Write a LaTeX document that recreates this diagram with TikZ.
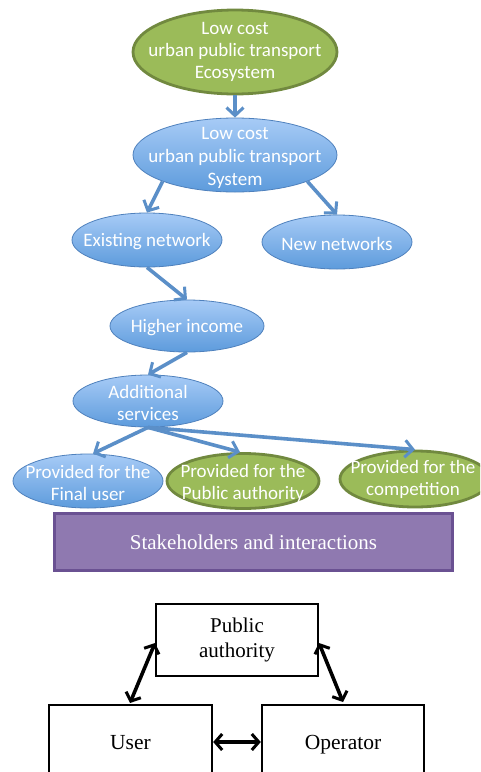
\documentclass[tikz,border=0pt]{standalone}
\usepackage{fontspec}
\setmainfont{Liberation Serif}
\newfontfamily\calib{Carlito}
\usetikzlibrary{shapes.geometric,arrows.meta}
\definecolor{gfill}{HTML}{9BBB59}
\definecolor{gdraw}{HTML}{71893F}
\definecolor{btop}{HTML}{A7CBF6}
\definecolor{bbot}{HTML}{5D9BDC}
\definecolor{bdraw}{HTML}{4F81BD}
\definecolor{arr}{HTML}{5B8FC8}
\definecolor{pfill}{HTML}{8F79B0}
\definecolor{pdraw}{HTML}{6A5192}
\tikzset{
  etext/.style={align=center, text=white, inner sep=0pt,
    font=\calib\fontsize{19}{22}\selectfont},
  btext/.style={etext, yshift=-2pt},
  ell/.style={ellipse, inner sep=0pt},
  greenell/.style={ell, fill=gfill, draw=gdraw, line width=2.8pt},
  blueell/.style={ell, top color=btop, bottom color=bbot, draw=bdraw, line width=0.8pt},
  barrow/.style={draw=arr, line width=3.6pt, -{Straight Barb[length=8pt,width=17pt,line width=3pt]}},
  kbox/.style={draw=black, line width=2.4pt, fill=white, align=center,
    font=\fontsize{21}{25}\selectfont},
  ktext/.style={font=\fontsize{21.5}{25}\selectfont, anchor=base},
  karrow/.style={draw=black, line width=3.6pt, {Straight Barb[length=7pt,width=16pt,line width=3pt]}-{Straight Barb[length=7pt,width=16pt,line width=3pt]}}
}
\begin{document}
\begin{tikzpicture}[x=1pt,y=-1pt]
\useasboundingbox (0,0) rectangle (480,772);
\clip (0,0) rectangle (480,772);
\fill[white] (0,0) rectangle (480,772);
\node[greenell, minimum width=204pt, minimum height=84pt, label={[etext]center:Low cost\\urban public transport\\Ecosystem}] (eco) at (235,52) {};
\node[blueell, minimum width=204pt, minimum height=74pt, label={[etext, yshift=-3pt, font=\calib\fontsize{19}{23}\selectfont]center:Low cost\\urban public transport\\System}] (sys) at (235,155) {};
\node[blueell, minimum width=150pt, minimum height=54pt, label={[btext]center:Existing network}] (exi) at (147,240) {};
\node[blueell, minimum width=150pt, minimum height=54pt, label={[btext]center:New networks}] (new) at (337,242) {};
\node[blueell, minimum width=154pt, minimum height=52pt, label={[btext]center:Higher income}] (hig) at (187,326) {};
\node[blueell, minimum width=150pt, minimum height=52pt, label={[btext]center:Additional\\services}] (add) at (148,401) {};
\node[blueell, minimum width=150pt, minimum height=54pt, label={[btext]center:Provided for the\\Final user}] (fin) at (88,481) {};
\node[greenell, minimum width=152pt, minimum height=55pt, label={[btext]center:Provided for the\\Public authority}] (pub) at (243,481) {};
\node[greenell, minimum width=150pt, minimum height=56pt, label={[etext, xshift=-2pt]center:Provided for the\\competition}] (com) at (415,479) {};
\node[draw=pdraw, fill=pfill, line width=2.2pt, minimum width=398pt, minimum height=57pt, text=white, font=\fontsize{21}{24}\selectfont] (stk) at (253.5,542) {Stakeholders and interactions};

\draw[barrow] (eco.south) -- (sys.north);
\draw[barrow] (sys.south west) -- (exi.north);
\draw[barrow] (sys.south east) -- (new.north);
\draw[barrow] (exi.south) -- (hig.north);
\draw[barrow] (hig.south) -- (add.north);
\draw[barrow] (add.south) -- ([xshift=5pt]fin.north);
\draw[barrow] (add.south) -- ([xshift=-3pt]pub.north);
\draw[barrow] (add.south) -- (com.north);

\node[kbox, minimum width=162pt, minimum height=72pt] (pa) at (237,640) {Public\\authority};
\node[kbox, minimum width=163pt, minimum height=80pt] (usr) at (130.5,745) {};
\node[kbox, minimum width=162pt, minimum height=80pt] (opr) at (343,745) {};
\node[ktext] (usrt) at (130.5,749) {User};
\node[ktext] (oprt) at (343,749) {Operator};
\coordinate (pal) at (155,643);
\coordinate (par) at (319,643);
\coordinate (ut) at (130,703);
\coordinate (ot) at (343,702);
\coordinate (mid) at (0,742);
\draw[karrow] (pal) -- (ut);
\draw[karrow] (par) -- (ot);
\draw[karrow] (usr.east |- mid) -- (opr.west |- mid);
\end{tikzpicture}
\end{document}
